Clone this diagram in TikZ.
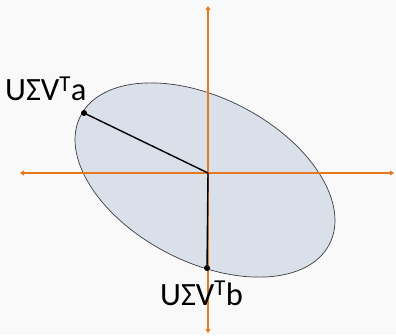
\documentclass[tikz,border=0pt]{standalone}
\usepackage{fontspec}
\setmainfont{Carlito}
\usetikzlibrary{arrows.meta}
\definecolor{bg}{RGB}{249,249,249}
\definecolor{axiscol}{RGB}{232,120,30}
\definecolor{ellfill}{RGB}{217,224,234}
\definecolor{ellline}{RGB}{60,60,60}
\tikzset{
  axis/.style={draw=axiscol, line width=1.6pt, {Triangle[length=4pt,width=5pt]}-{Triangle[length=4pt,width=5pt]}},
  vec/.style={draw=black, line width=1.4pt},
  tipdot/.style={circle, fill=black, inner sep=0pt, minimum size=6pt},
  lbl/.style={font=\fontsize{32.5}{33}\selectfont, inner sep=0pt, anchor=base west}
}
\begin{document}
\begin{tikzpicture}[x=1pt,y=1pt]
\fill[bg] (0,0) rectangle (396,335);
\useasboundingbox (0,0) rectangle (396,335);
\fill[ellfill, draw=ellline, line width=0.7pt, rotate around={-27.3:(205,155)}] (205,155) ellipse [x radius=140, y radius=82];
\coordinate (L) at (20,162);
\coordinate (R) at (394,162);
\coordinate (T) at (208,329);
\coordinate (B) at (208,2);
\draw[axis] (L) -- (R);
\draw[axis] (B) -- (T);
\coordinate (O) at (208,162);
\node[tipdot] (a) at (84,222) {};
\node[tipdot] (b) at (207,67) {};
\draw[vec] (O) -- (a.center);
\draw[vec] (O) -- (b.center);
\node[lbl] (la) at (5,234) {UΣV\textsuperscript{T}a};
\node[lbl] (lb) at (160,30) {UΣV\textsuperscript{T}b};
\end{tikzpicture}
\end{document}
